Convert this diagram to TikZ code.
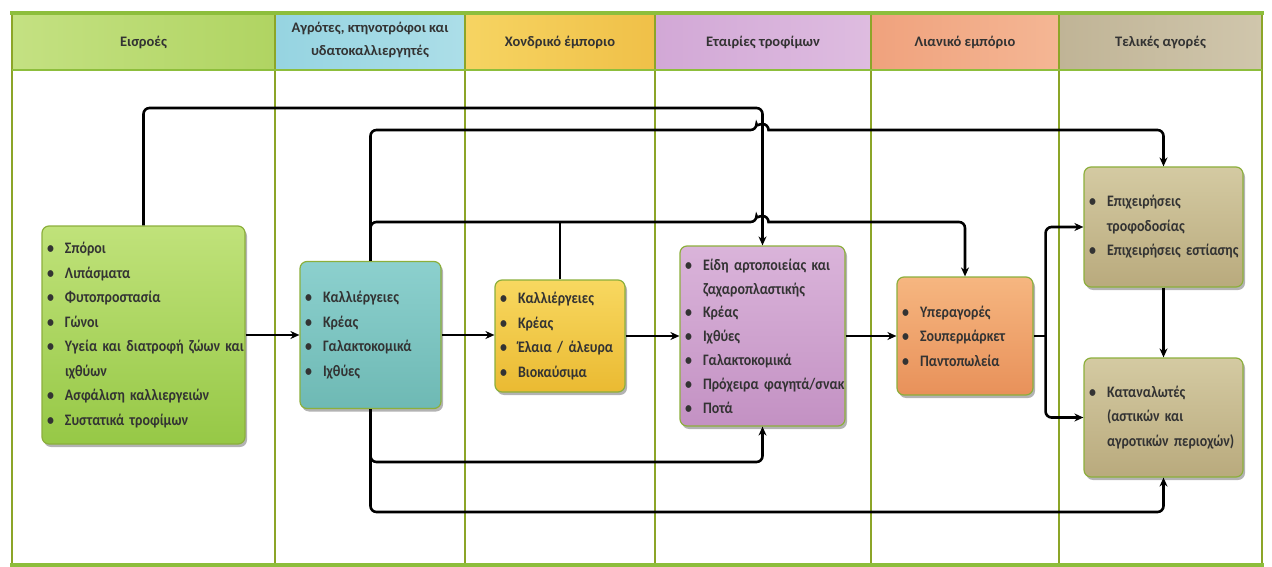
\documentclass[tikz,border=0pt]{standalone}
\usepackage{fontspec}
\setmainfont{Carlito}
\newfontfamily\boxfont{Carlito}[FakeStretch=0.87]
\usetikzlibrary{positioning,calc,arrows.meta,shadows}

\definecolor{frameg}{RGB}{141,190,60}
\definecolor{ruleg}{RGB}{140,165,40}
\definecolor{boxline}{RGB}{140,175,60}
\newcommand{\bul}[1]{\mbox{\makebox[18pt][l]{\textbullet}#1}}
\newcommand{\cont}[1]{\mbox{\hspace*{18pt}#1}}

\tikzstyle{box} = [draw=boxline, line width=1.2pt, rounded corners=7pt, align=left, inner xsep=5pt, inner ysep=0pt, font=\boxfont\bfseries\fontsize{16pt}{24.5pt}\selectfont, text=black!80, drop shadow={shadow xshift=2pt, shadow yshift=-3pt, fill=black!50, opacity=0.6}]
\tikzstyle{head} = [align=center, font=\bfseries\fontsize{14.5pt}{23pt}\selectfont, text=black!80]
\tikzstyle{flow} = [line width=2.6pt, -{Stealth[length=9pt,width=8pt]}]
\tikzstyle{link} = [line width=2.6pt, rounded corners=6pt]
\tikzset{boxsize/.style n args={3}{minimum width=#1, text width=#2, minimum height=#3}}

\begin{document}
\begin{tikzpicture}[x=1pt, y=-1pt]
    \useasboundingbox (0,0) rectangle (1272,567);

    % header row
    \fill[left color={rgb,255:red,196;green,225;blue,130}, right color={rgb,255:red,176;green,212;blue,98}] (12,13) rectangle (275,70);
    \fill[left color={rgb,255:red,150;green,212;blue,225}, right color={rgb,255:red,172;green,222;blue,232}] (275,13) rectangle (465,70);
    \fill[left color={rgb,255:red,246;green,212;blue,98}, right color={rgb,255:red,240;green,192;blue,72}] (465,13) rectangle (655,70);
    \fill[left color={rgb,255:red,210;green,168;blue,214}, right color={rgb,255:red,222;green,188;blue,224}] (655,13) rectangle (871,70);
    \fill[left color={rgb,255:red,240;green,162;blue,125}, right color={rgb,255:red,244;green,182;blue,148}] (871,13) rectangle (1059,70);
    \fill[left color={rgb,255:red,192;green,180;blue,150}, right color={rgb,255:red,208;green,198;blue,172}] (1059,13) rectangle (1262,70);

    \node [head] (h1) at (143.5,42) {Εισροές};
    \node [head] (h2) at (370,40) {Αγρότες, κτηνοτρόφοι και\\υδατοκαλλιεργητές};
    \node [head] (h3) at (560,42) {Χονδρικό έμποριο};
    \node [head] (h4) at (763,42) {Εταιρίες τροφίμων};
    \node [head] (h5) at (965,42) {Λιανικό εμπόριο};
    \node [head] (h6) at (1160.5,42) {Τελικές αγορές};

    % table lines
    \foreach \x in {275,465,655,871,1059}
        \draw [ruleg, line width=1.2pt] (\x,13) -- (\x,565);
    \draw [ruleg, line width=1.4pt] (12,13) -- (12,565);
    \draw [ruleg, line width=1.4pt] (1262,13) -- (1262,565);
    \draw [frameg, line width=2pt] (12,70) -- (1262,70);
    \draw [frameg, line width=4pt] (10,13) -- (1264,13);
    \draw [frameg, line width=4pt] (10,565) -- (1264,565);

    % boxes
    \node [box, boxsize={203pt}{193pt}{218pt}, top color={rgb,255:red,192;green,226;blue,122}, bottom color={rgb,255:red,150;green,200;blue,70}] (inp) at (143.5,335)
        {\bul{Σπόροι}\\\bul{Λιπάσματα}\\\bul{Φυτοπροστασία}\\\bul{Γώνοι}\\\bul{Υγεία και διατροφή ζώων και}\\\cont{ιχθύων}\\\bul{Ασφάλιση καλλιεργειών}\\\bul{Συστατικά τροφίμων}};
    \node [box, boxsize={141pt}{131pt}{147pt}, top color={rgb,255:red,140;green,208;blue,206}, bottom color={rgb,255:red,110;green,185;blue,180}] (farm) at (370.5,335)
        {\bul{Καλλιέργειες}\\\bul{Κρέας}\\\bul{Γαλακτοκομικά}\\\bul{Ιχθύες}};
    \node [box, boxsize={130pt}{120pt}{112pt}, top color={rgb,255:red,248;green,216;blue,96}, bottom color={rgb,255:red,234;green,186;blue,50}] (whole) at (560,336)
        {\bul{Καλλιέργειες}\\\bul{Κρέας}\\\bul{Έλαια / άλευρα}\\\bul{Βιοκαύσιμα}};
    \node [box, boxsize={165pt}{155pt}{180pt}, font=\boxfont\bfseries\fontsize{16pt}{23.8pt}\selectfont, top color={rgb,255:red,218;green,180;blue,218}, bottom color={rgb,255:red,195;green,145;blue,195}] (food) at (762.5,336)
        {\bul{Είδη αρτοποιείας και}\\\cont{ζαχαροπλαστικής}\\\bul{Κρέας}\\\bul{Ιχθύες}\\\bul{Γαλακτοκομικά}\\\bul{Πρόχειρα φαγητά/σνακ}\\\bul{Ποτά}};
    \node [box, boxsize={136pt}{126pt}{118pt}, top color={rgb,255:red,246;green,182;blue,128}, bottom color={rgb,255:red,232;green,145;blue,90}] (retail) at (965,336)
        {\bul{Υπεραγορές}\\\bul{Σουπερμάρκετ}\\\bul{Παντοπωλεία}};
    \node [box, boxsize={159pt}{149pt}{120pt}, top color={rgb,255:red,212;green,202;blue,162}, bottom color={rgb,255:red,185;green,170;blue,125}] (cater) at (1163.5,227)
        {\bul{Επιχειρήσεις}\\\cont{τροφοδοσίας}\\\bul{Επιχειρήσεις εστίασης}};
    \node [box, boxsize={159pt}{149pt}{119pt}, top color={rgb,255:red,212;green,202;blue,162}, bottom color={rgb,255:red,185;green,170;blue,125}] (cons) at (1163.5,417.5)
        {\bul{Καταναλωτές}\\\cont{(αστικών και}\\\cont{αγροτικών περιοχών)}};

    % rails
    \coordinate (railA) at (0,108);
    \coordinate (railB) at (0,130);
    \coordinate (railC) at (0,222);
    \coordinate (railE) at (0,462);
    \coordinate (railF) at (0,512);
    \coordinate (hopB) at (food.north |- railB);
    \coordinate (hopC) at (food.north |- railC);
    \coordinate (split) at ($(retail.east)+(12,0)$);

    % main chain
    \draw [flow] (inp.east) -- (inp.east -| farm.west);
    \draw [flow] (farm.east) -- (farm.east -| whole.west);
    \draw [flow] (whole.east) -- (whole.east -| food.west);
    \draw [flow] (food.east) -- (food.east -| retail.west);
    \draw [link] (retail.east) -- (split);
    \draw [flow, rounded corners=6pt] (split) |- (cater.west);
    \draw [flow, rounded corners=6pt] (split) |- (cons.west);
    \draw [flow] (cater.south) -- (cons.north);

    % top rails
    \draw [flow, rounded corners=6pt] (inp.north) |- (railA -| food.north) -- (food.north);
    \draw [flow] (farm.north) [rounded corners=6pt] |- ($(hopB)+(-6,0)$) [sharp corners] arc[start angle=180, end angle=0, radius=6pt] [rounded corners=6pt] -| (cater.north);
    \draw [flow] (farm.north) [rounded corners=6pt] |- ($(hopC)+(-6,0)$) [sharp corners] arc[start angle=180, end angle=0, radius=6pt] [rounded corners=6pt] -| (retail.north);
    \draw [link] (whole.north) -- (whole.north |- railC);

    % bottom rails
    \draw [flow, rounded corners=6pt] (farm.south) |- (railE -| food.south) -- (food.south);
    \draw [flow, rounded corners=6pt] (farm.south) |- (railF -| cons.south) -- (cons.south);
\end{tikzpicture}
\end{document}
